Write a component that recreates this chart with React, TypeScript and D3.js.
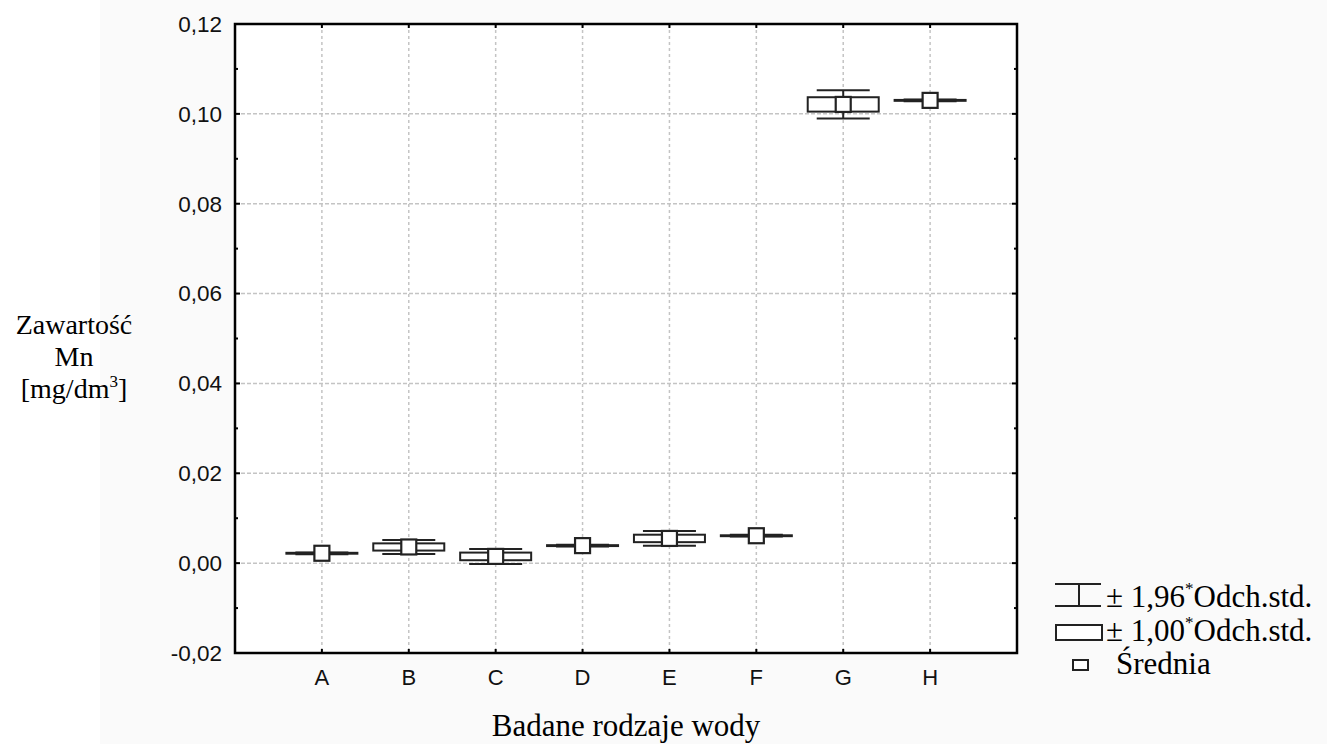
import React from 'react';
import * as d3 from 'd3';

const categories = ['A', 'B', 'C', 'D', 'E', 'F', 'G', 'H'];
const means = [0.0022, 0.0036, 0.0015, 0.0039, 0.0055, 0.0061, 0.1021, 0.103];
const sds = [0.0001, 0.0008, 0.00085, 0.0001, 0.00083, 0.0001, 0.0016, 0.0001];
const yTicks = [-0.02, 0, 0.02, 0.04, 0.06, 0.08, 0.1, 0.12];
const yMinor = [-0.01, 0.01, 0.03, 0.05, 0.07, 0.09, 0.11];
const legendLabels = ['± 1,96', '± 1,00', 'Średnia'];

const W = 1327;
const H = 744;
const left = 235, right = 1017, top = 24, bottom = 653;

export default function App() {
  const x = d3.scaleLinear().domain([0, categories.length + 1]).range([left, right]);
  const y = d3.scaleLinear().domain([-0.02, 0.12]).range([bottom, top]);
  const fmt = (v: number) => d3.format('.2f')(v).replace('.', ',').replace('−', '-');
  const boxW = 71, capW = 53, m = 15;
  const arial = 'Liberation Sans, Arial, sans-serif';
  const times = 'Liberation Serif, Times New Roman, serif';
  const grid = '#c4c4c4';
  const tf = 31;

  return (
    <svg width={W} height={H} style={{ position: 'absolute', left: 0, top: 0 }}>
      <rect x={100} y={0} width={W - 100} height={H} fill="#fafafa" />
      <rect x={left} y={top} width={right - left} height={bottom - top} fill="#fff" />
      {/* grid */}
      {yTicks.filter(v => v > -0.02 && v < 0.12).map(v => (
        <line key={'gy' + v} x1={left} x2={right} y1={y(v)} y2={y(v)} stroke={grid} strokeWidth={1.5} strokeDasharray="4,2" />
      ))}
      {categories.map((c, i) => (
        <line key={'gx' + c} x1={x(i + 1)} x2={x(i + 1)} y1={top} y2={bottom} stroke={grid} strokeWidth={1.5} strokeDasharray="3,3" />
      ))}
      {/* boxes */}
      {categories.map((c, i) => {
        const cx = x(i + 1);
        const mu = means[i];
        const s = sds[i];
        const wTop = y(mu + 1.96 * s), wBot = y(mu - 1.96 * s);
        const bTop = y(mu + s), bBot = y(mu - s);
        return (
          <g key={'b' + c} stroke="#222" fill="none">
            <line x1={cx} x2={cx} y1={wTop} y2={wBot} strokeWidth={2} />
            <line x1={cx - capW / 2} x2={cx + capW / 2} y1={wTop} y2={wTop} strokeWidth={2} />
            <line x1={cx - capW / 2} x2={cx + capW / 2} y1={wBot} y2={wBot} strokeWidth={2} />
            <rect x={cx - boxW / 2} y={bTop} width={boxW} height={Math.max(0.5, bBot - bTop)} fill="#fff" strokeWidth={2} />
            <rect x={cx - m / 2} y={y(mu) - m / 2} width={m} height={m} fill="#fff" strokeWidth={2.2} />
          </g>
        );
      })}
      {/* frame */}
      <rect x={left} y={top} width={right - left} height={bottom - top} fill="none" stroke="#000" strokeWidth={2.5} />
      {yTicks.map(v => (
        <g key={'t' + v}>
          <line x1={left} x2={left + 5} y1={y(v)} y2={y(v)} stroke="#000" strokeWidth={2} />
          <line x1={right - 5} x2={right} y1={y(v)} y2={y(v)} stroke="#000" strokeWidth={2} />
          <text x={222} y={y(v)} dy="0.35em" textAnchor="end" fontFamily={arial} fontSize={22.5} fill="#111">{fmt(v)}</text>
        </g>
      ))}
      {yMinor.map(v => (
        <g key={'mt' + v}>
          <line x1={left} x2={left + 3} y1={y(v)} y2={y(v)} stroke="#000" strokeWidth={2} />
          <line x1={right - 3} x2={right} y1={y(v)} y2={y(v)} stroke="#000" strokeWidth={2} />
        </g>
      ))}
      {categories.map((c, i) => (
        <g key={'xt' + c}>
          <line x1={x(i + 1)} x2={x(i + 1)} y1={bottom} y2={bottom - 4} stroke="#000" strokeWidth={2} />
          <line x1={x(i + 1)} x2={x(i + 1)} y1={top} y2={top + 4} stroke="#000" strokeWidth={2} />
          <text x={x(i + 1)} y={685} textAnchor="middle" fontFamily={arial} fontSize={22} fill="#111">{c}</text>
        </g>
      ))}
      {/* axis titles */}
      <text x={626} y={736} textAnchor="middle" fontFamily={times} fontSize={tf} fill="#000">Badane rodzaje wody</text>
      <g fontFamily={times} fontSize={28} fill="#000" textAnchor="middle">
        <text x={74} y={334}>Zawartość</text>
        <text x={74} y={366}>Mn</text>
        <text x={74} y={398}>[mg/dm<tspan dy={-11} fontSize={17}>3</tspan><tspan dy={11}>]</tspan></text>
      </g>
      {/* legend */}
      <g stroke="#222" fill="none" strokeWidth={2}>
        <line x1={1055} x2={1101} y1={584} y2={584} />
        <line x1={1079} x2={1079} y1={584} y2={606} />
        <line x1={1055} x2={1101} y1={606} y2={606} />
        <rect x={1056} y={625} width={46} height={15} fill="#fff" />
        <rect x={1073} y={660} width={15} height={10} fill="#fff" />
      </g>
      <g fontFamily={times} fontSize={tf} fill="#000">
        <text x={1106} y={607}>{legendLabels[0]}<tspan dy={-13} fontSize={17}>*</tspan><tspan dy={13}>Odch.std.</tspan></text>
        <text x={1106} y={641}>{legendLabels[1]}<tspan dy={-13} fontSize={17}>*</tspan><tspan dy={13}>Odch.std.</tspan></text>
        <text x={1116} y={674}>{legendLabels[2]}</text>
      </g>
    </svg>
  );
}
